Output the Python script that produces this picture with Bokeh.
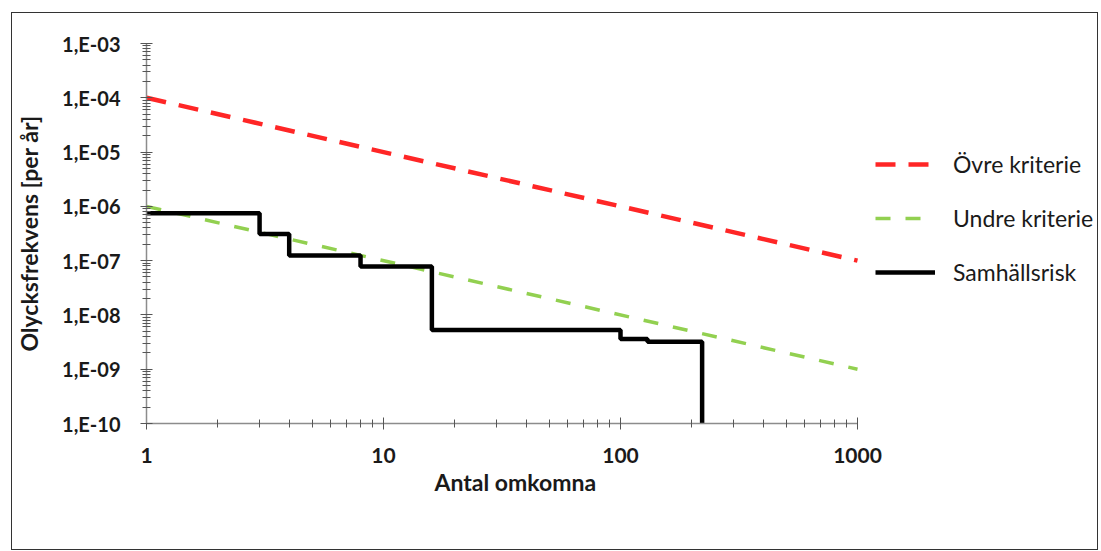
from bokeh.plotting import figure
from bokeh.models import Legend, LegendItem, CustomJSTickFormatter, Range1d, LogTicker, Title
from bokeh.embed import file_html
from bokeh.resources import INLINE

# Data
crit_n = [1, 1000]
upper_f = [1e-4, 1e-7]
lower_f = [1e-6, 1e-9]
risk_n = [1, 3, 4, 8, 16, 100, 130, 221]
risk_f = [7.5e-7, 3.1e-7, 1.25e-7, 7.8e-8, 5.3e-9, 3.6e-9, 3.2e-9, 1e-10]
x_ticks = [1, 10, 100, 1000]
y_ticks = [1e-10, 1e-9, 1e-8, 1e-7, 1e-6, 1e-5, 1e-4, 1e-3]

FONT = "Lato"
AXW, FH = 711, 380          # pixel extent of the 1..1000 axis, frame height
EXTRA = 236                 # room to the right of the axis for the legend
FW = AXW + EXTRA
x_end = 10 ** (3 * FW / AXW)

p = figure(frame_width=FW, frame_height=FH, x_axis_type="log", y_axis_type="log",
           x_range=Range1d(1, x_end), y_range=Range1d(1e-10, 1e-3),
           output_backend="svg", toolbar_location=None,
           min_border_left=131, min_border_right=4, min_border_top=30, min_border_bottom=126,
           margin=(12, 0, 0, 11),
           styles={"border": "1.5px solid #333333"})
p.outline_line_color = None
p.xgrid.visible = False
p.ygrid.visible = False

r_up = p.line(crit_n, upper_f, line_color="#ff2626", line_width=4.5, line_dash="20 13")
r_lo = p.line(crit_n, lower_f, line_color="#92d050", line_width=3.5, line_dash="15 15")
r_risk = p.step(risk_n, risk_f, mode="after", line_color="#000000", line_width=4.5)

for ax in (p.xaxis[0], p.yaxis[0]):
    ax.axis_line_color = "#8c8c8c"
    ax.axis_line_width = 1.5
    ax.major_tick_line_color = "#555555"
    ax.minor_tick_line_color = "#555555"
    ax.major_tick_in = 6
    ax.major_tick_out = 6
    ax.minor_tick_in = 4
    ax.minor_tick_out = 4
    ax.major_label_text_font = FONT
    ax.major_label_text_font_style = "bold"
    ax.axis_label_text_font = FONT
    ax.axis_label_text_font_style = "bold"
    ax.axis_label_text_font_size = "23px"
    ax.major_label_text_color = "#1a1a1a"
    ax.axis_label_text_color = "#1a1a1a"

p.xaxis.bounds = (x_ticks[0], x_ticks[-1])
p.xaxis.ticker = LogTicker(num_minor_ticks=10, desired_num_ticks=4)
p.yaxis.ticker = LogTicker(num_minor_ticks=10, desired_num_ticks=8)
p.xaxis.formatter = CustomJSTickFormatter(code="return String(Math.round(tick));")
p.yaxis.formatter = CustomJSTickFormatter(code="""
var e = Math.round(Math.log10(tick));
var s = String(Math.abs(e)).padStart(2, '0');
return '1,E' + (e < 0 ? '-' : '+') + s;
""")
p.xaxis.major_label_text_font_size = "21px"
p.yaxis.major_label_text_font_size = "20px"
p.xaxis.major_label_standoff = 18
p.yaxis.major_label_standoff = 20
p.yaxis.axis_label = "Olycksfrekvens [per år]"
p.yaxis.axis_label_standoff = 16

# x-axis title, centred under the 1..1000 axis part as in the reference
xtitle = Title(text="Antal omkomna", align="left", offset=288, standoff=0,
               text_font=FONT, text_font_size="23px", text_font_style="bold",
               text_color="#1a1a1a")
p.add_layout(xtitle, "below")

legend = Legend(items=[
    LegendItem(label="Övre kriterie", renderers=[r_up]),
    LegendItem(label="Undre kriterie", renderers=[r_lo]),
    LegendItem(label="Samhällsrisk", renderers=[r_risk]),
], location=(AXW + 18, 137), orientation="vertical")
legend.border_line_color = None
legend.background_fill_alpha = 0
legend.label_text_font = FONT
legend.label_text_font_size = "23px"
legend.label_text_color = "#1a1a1a"
legend.glyph_width = 60
legend.glyph_height = 20
legend.label_height = 20
legend.label_standoff = 18
legend.spacing = 26
legend.padding = 0
legend.margin = 0
p.add_layout(legend, "center")

open("out.html", "w").write(file_html(p, INLINE))
